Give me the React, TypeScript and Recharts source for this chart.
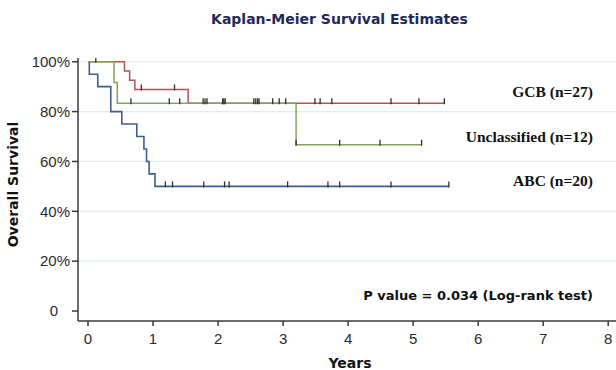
import React from 'react';
import { ComposedChart, Line, Scatter, XAxis, YAxis, CartesianGrid } from 'recharts';

// step points (time in years, survival fraction)
const gcbTimes = [0, 0.56, 0.64, 0.72, 1.54, 5.48];
const gcbSurv = [1, 0.963, 0.926, 0.889, 0.833, 0.833];
const gcbCensored = [0.12, 0.82, 1.33, 1.77, 1.83, 2.07, 2.11, 2.55, 2.58, 2.61, 2.84, 2.94, 3.04, 3.49, 3.57, 3.75, 4.66, 5.09, 5.48];

const unclTimes = [0, 0.4, 0.45, 3.2, 5.13];
const unclSurv = [1, 0.917, 0.833, 0.667, 0.667];
const unclCensored = [0.66, 1.25, 1.41, 1.8, 2.09, 2.63, 3.2, 3.87, 4.49, 5.13];

const abcTimes = [0, 0.02, 0.15, 0.35, 0.52, 0.75, 0.86, 0.9, 0.94, 1.03, 5.55];
const abcSurv = [1, 0.95, 0.9, 0.8, 0.75, 0.7, 0.65, 0.6, 0.55, 0.5, 0.5];
const abcCensored = [1.19, 1.3, 1.78, 2.1, 2.17, 3.07, 3.69, 3.87, 4.66, 5.55];

const xTicks = [0, 1, 2, 3, 4, 5, 6, 7, 8];
const yTicks = [0, 0.2, 0.4, 0.6, 0.8, 1];
const gridValues = [0.2, 0.4, 0.6, 0.8, 1];

const steps = (times: number[], surv: number[]) => times.map((t, i) => ({ t, s: surv[i] }));

// survival value at a censoring time, read from the step arrays
const censorPoints = (times: number[], surv: number[], cens: number[]) =>
  cens.map((t) => {
    let s = surv[0];
    times.forEach((tt, i) => {
      if (tt <= t) s = surv[i];
    });
    return { t, s };
  });

const CensorMark = (props: any) => {
  const { cx, cy } = props;
  if (cx == null || cy == null) return null;
  return <line x1={cx} x2={cx} y1={cy - 5} y2={cy + 1} stroke="#2f2f2f" strokeWidth={1.3} />;
};

const fmtY = (v: number) => (v === 0 ? '0' : `${Math.round(v * 100)}%`);

const YTick = (props: any) => {
  const { x, y, payload } = props;
  return (
    <text
      x={x}
      y={y}
      dx={payload.value === 0 ? -12 : 0}
      dy="0.355em"
      textAnchor="end"
      fontSize={15}
      fill="#2b2b2b"
      fontFamily="'Liberation Sans', Arial, sans-serif"
    >
      {fmtY(payload.value)}
    </text>
  );
};

export default function App() {
  const bold = "'DejaVu Sans', Verdana, sans-serif";
  const serif = "'Liberation Serif', 'Times New Roman', serif";
  return (
    <div style={{ position: 'absolute', left: 0, top: 0, width: 616, height: 370, background: '#fff' }}>
      <ComposedChart width={616} height={370} margin={{ top: 58, right: 0, bottom: 0, left: 0 }}>
        <CartesianGrid vertical={false} horizontalValues={gridValues} stroke="#e1ecec" strokeWidth={1.2} />
        <XAxis
          type="number"
          dataKey="t"
          domain={[-0.154, 8.12]}
          allowDataOverflow
          ticks={xTicks}
          height={49}
          tickSize={5}
          tickMargin={7}
          stroke="#3a3a3a"
          strokeWidth={1.5}
          tick={{ fontSize: 15, fill: '#2b2b2b', fontFamily: "'Liberation Sans', Arial, sans-serif" }}
        />
        <YAxis
          type="number"
          dataKey="s"
          domain={[-0.04, 1.015]}
          allowDataOverflow
          ticks={yTicks}
          width={78}
          tickSize={6}
          tickMargin={2}
          stroke="#3a3a3a"
          strokeWidth={1.5}
          tick={<YTick />}
        />
        <Line data={steps(gcbTimes, gcbSurv)} dataKey="s" type="stepAfter" stroke="#b5524e" strokeWidth={1.5} dot={false} isAnimationActive={false} />
        <Line data={steps(abcTimes, abcSurv)} dataKey="s" type="stepAfter" stroke="#3d5d98" strokeWidth={1.6} dot={false} isAnimationActive={false} />
        <Line data={steps(unclTimes, unclSurv)} dataKey="s" type="stepAfter" stroke="#84a65a" strokeWidth={1.5} dot={false} isAnimationActive={false} />
        <Scatter data={censorPoints(gcbTimes, gcbSurv, gcbCensored)} dataKey="s" shape={<CensorMark />} isAnimationActive={false} />
        <Scatter data={censorPoints(unclTimes, unclSurv, unclCensored)} dataKey="s" shape={<CensorMark />} isAnimationActive={false} />
        <Scatter data={censorPoints(abcTimes, abcSurv, abcCensored)} dataKey="s" shape={<CensorMark />} isAnimationActive={false} />
      </ComposedChart>
      <svg width={616} height={370} style={{ position: 'absolute', left: 0, top: 0, pointerEvents: 'none' }}>
        <text x={339.5} y={24} textAnchor="middle" fontFamily={bold} fontWeight="bold" fontSize={14} fill="#1f2a5a">
          Kaplan-Meier Survival Estimates
        </text>
        <text x={593} y={97} textAnchor="end" fontFamily={serif} fontWeight="bold" fontSize={15.5} fill="#111">
          GCB (n=27)
        </text>
        <text x={593} y={142} textAnchor="end" fontFamily={serif} fontWeight="bold" fontSize={15.5} fill="#111">
          Unclassified (n=12)
        </text>
        <text x={593} y={186} textAnchor="end" fontFamily={serif} fontWeight="bold" fontSize={15.5} fill="#111">
          ABC (n=20)
        </text>
        <text x={593} y={300} textAnchor="end" fontFamily={bold} fontWeight="bold" fontSize={13} fill="#111">
          P value = 0.034 (Log-rank test)
        </text>
        <text x={350} y={368} textAnchor="middle" fontFamily={bold} fontWeight="bold" fontSize={14} fill="#111">
          Years
        </text>
        <text x={18} y={184.5} textAnchor="middle" fontFamily={bold} fontWeight="bold" fontSize={14} fill="#111" transform="rotate(-90 18 184.5)">
          Overall Survival
        </text>
      </svg>
    </div>
  );
}
